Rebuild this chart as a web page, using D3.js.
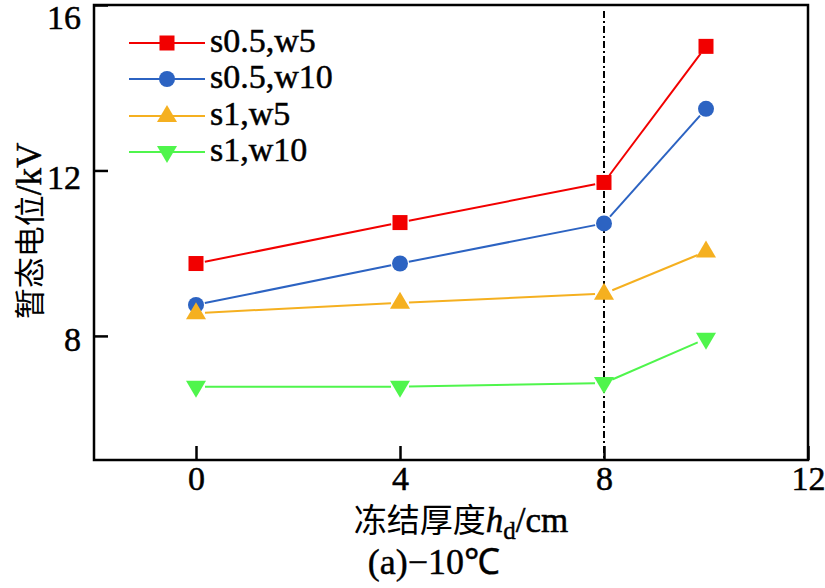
<!DOCTYPE html>
<html><head><meta charset="utf-8">
<script src="https://cdn.jsdelivr.net/npm/d3@7/dist/d3.min.js"></script>
<style>body{margin:0;background:#fff;}svg{display:block;}</style>
</head><body>
<svg id="c" width="825" height="588"></svg>
<script>
const xValues = [0, 4, 8, 10];
const seriesNames = ["s0.5,w5", "s0.5,w10", "s1,w5", "s1,w10"];
const s05w5 = [9.75, 10.74, 11.71, 15.0];
const s05w10 = [8.75, 9.75, 10.72, 13.49];
const s1w5 = [8.55, 8.8, 9.02, 10.04];
const s1w10 = [6.77, 6.77, 6.86, 7.93];
const xTicks = [0, 4, 8, 12];
const yTicks = [8, 12, 16];
const refLineX = 8;

const colors = ["#f20000", "#2c63c2", "#f5b020", "#4ff54c"];
const shapes = ["square", "circle", "tri", "tridown"];
const seriesValues = [s05w5, s05w10, s1w5, s1w10];

const svg = d3.select("#c");
const L = 94, R = 808, T = 5, B = 460;
const x = d3.scaleLinear().domain([-2, 12]).range([L, R]);
const y = d3.scaleLinear().domain([5, 16]).range([B, T]);
const serif = "'Liberation Serif','Times New Roman',serif";
const cjk = "'Noto Sans CJK SC','Noto Sans CJK JP',sans-serif";

// dash-dot reference line
svg.append("line").attr("x1", x(refLineX)).attr("x2", x(refLineX))
  .attr("y1", T + 6).attr("y2", B).attr("stroke", "#000").attr("stroke-width", 2)
  .attr("stroke-dasharray", "7,3,2,3");

function marker(g, shape, cx, cy, color) {
  if (shape === "square") {
    g.append("rect").attr("x", cx - 7.5).attr("y", cy - 7.5).attr("width", 15).attr("height", 15).attr("fill", color);
  } else if (shape === "circle") {
    g.append("circle").attr("cx", cx).attr("cy", cy).attr("r", 8).attr("fill", color);
  } else if (shape === "tri") {
    g.append("path").attr("d", `M${cx},${cy - 11}L${cx + 10},${cy + 6}L${cx - 10},${cy + 6}Z`).attr("fill", color);
  } else {
    g.append("path").attr("d", `M${cx},${cy + 11}L${cx + 10},${cy - 6}L${cx - 10},${cy - 6}Z`).attr("fill", color);
  }
}

const gap = 9;
seriesValues.forEach((vals, si) => {
  const g = svg.append("g");
  const pts = xValues.map((xv, i) => [x(xv), y(vals[i])]);
  for (let i = 0; i < pts.length - 1; i++) {
    const [x1, y1] = pts[i], [x2, y2] = pts[i + 1];
    const dx = x2 - x1, dy = y2 - y1, len = Math.hypot(dx, dy);
    const ux = dx / len, uy = dy / len;
    g.append("line").attr("x1", x1 + ux * gap).attr("y1", y1 + uy * gap)
      .attr("x2", x2 - ux * gap).attr("y2", y2 - uy * gap)
      .attr("stroke", colors[si]).attr("stroke-width", 2);
  }
  pts.forEach(p => marker(g, shapes[si], p[0], p[1], colors[si]));
});

// frame
svg.append("rect").attr("x", L).attr("y", T).attr("width", R - L).attr("height", B - T)
  .attr("fill", "none").attr("stroke", "#000").attr("stroke-width", 2.5);

// axes (inward ticks)
const xAxis = svg.append("g").attr("transform", `translate(0,${B})`)
  .call(d3.axisBottom(x).tickValues(xTicks).tickSize(-14).tickFormat(d3.format("d")));
const yAxis = svg.append("g").attr("transform", `translate(${L},0)`)
  .call(d3.axisLeft(y).tickValues(yTicks).tickSize(-14).tickFormat(d3.format("d")));
[xAxis, yAxis].forEach(a => {
  a.select(".domain").remove();
  a.selectAll(".tick line").attr("stroke", "#000").attr("stroke-width", 2.5);
  a.selectAll(".tick text").attr("fill", "#000").style("font-family", serif).style("font-size", "34px")
    .attr("stroke", "#000").attr("stroke-width", 0.5);
});
xAxis.selectAll(".tick text").attr("y", 30).attr("dy", 0);
yAxis.selectAll(".tick text").attr("x", -13).attr("dy", 0)
  .attr("y", d => d === 16 ? 23 : (d === 12 ? 18 : 15));

// legend
const lg = svg.append("g");
const rowY = [43, 79, 116, 152];
seriesNames.forEach((name, i) => {
  lg.append("line").attr("x1", 129).attr("x2", 205).attr("y1", rowY[i]).attr("y2", rowY[i])
    .attr("stroke", colors[i]).attr("stroke-width", 2);
  marker(lg, shapes[i], 167, rowY[i], colors[i]);
  lg.append("text").attr("x", 210).attr("y", rowY[i] + 9).text(name)
    .style("font-family", serif).style("font-size", "34px").attr("fill", "#000")
    .attr("stroke", "#000").attr("stroke-width", 0.5);
});

// y label
svg.append("text").attr("transform", "translate(41,231) rotate(-90)").attr("text-anchor", "middle")
  .attr("fill", "#000")
  .call(t => {
    t.append("tspan").style("font-family", cjk).style("font-size", "31px").text("暂态电位");
    t.append("tspan").style("font-family", serif).style("font-size", "35px")
      .attr("stroke", "#000").attr("stroke-width", 0.5).text("/kV");
  });

// x label
svg.append("text").attr("x", 461).attr("y", 532).attr("text-anchor", "middle")
  .attr("fill", "#000")
  .call(t => {
    t.append("tspan").style("font-family", cjk).style("font-size", "33px").text("冻结厚度");
    t.append("tspan").style("font-family", serif).style("font-style", "italic").style("font-size", "35px")
      .attr("stroke", "#000").attr("stroke-width", 0.5).text("h");
    t.append("tspan").style("font-family", serif).style("font-size", "25px").attr("dy", 7)
      .attr("stroke", "#000").attr("stroke-width", 0.4).text("d");
    t.append("tspan").style("font-family", serif).style("font-size", "35px").attr("dy", -7)
      .attr("stroke", "#000").attr("stroke-width", 0.5).text("/cm");
  });

// caption
svg.append("text").attr("x", 434).attr("y", 574).attr("text-anchor", "middle")
  .attr("fill", "#000")
  .call(t => {
    t.append("tspan").style("font-family", serif).style("font-size", "36px")
      .attr("stroke", "#000").attr("stroke-width", 0.4).text("(a)\u221210\u2103");
  });
</script>
</body></html>
